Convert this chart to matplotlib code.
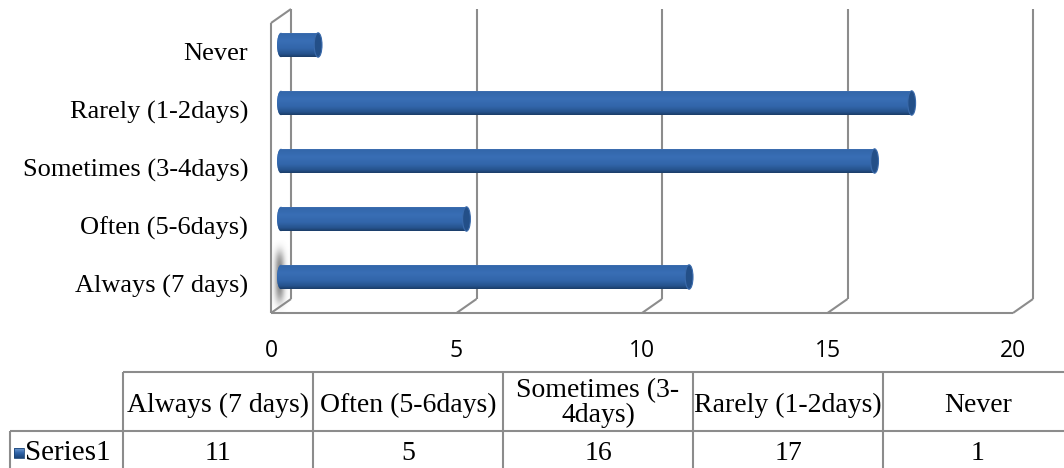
import numpy as np
import matplotlib
matplotlib.use("Agg")
import matplotlib.pyplot as plt
from matplotlib.patches import Ellipse, Rectangle
from matplotlib.transforms import offset_copy
from matplotlib.colors import LinearSegmentedColormap

# ---- data -------------------------------------------------------------
categories = ["Always (7 days)", "Often (5-6days)", "Sometimes (3-4days)",
              "Rarely (1-2days)", "Never"]
table_headers = ["Always (7 days)", "Often (5-6days)", "Sometimes (3-\n4days)",
                 "Rarely (1-2days)", "Never"]
series_name = "Series1"
values = [11, 5, 16, 17, 1]
x_ticks = [0, 5, 10, 15, 20]

# ---- figure / layout --------------------------------------------------
W, H, DPI = 1064, 468, 100
fig = plt.figure(figsize=(W / DPI, H / DPI), dpi=DPI)
fig.patch.set_facecolor("white")


def px_box(left, top, right, bottom):
    return [left / W, 1 - bottom / H, (right - left) / W, (bottom - top) / H]


SERIF = "Liberation Serif"
SANS = "Open Sans"
WALL = "#8c8c8c"

# front plane of the 3-D box
ax_l, ax_t, ax_r, ax_b = 271, 23, 1013, 313
ax = fig.add_axes(px_box(ax_l, ax_t, ax_r, ax_b))
ax.set_facecolor("none")
xmin, xmax = 0, 20
ymin, ymax = -0.5, len(categories) - 0.5
for s in ax.spines.values():
    s.set_visible(False)

# oblique depth of the box (pixels) and its size in data units
depth_px = (20, 14)
sx = (xmax - xmin) / (ax_r - ax_l)
sy = (ymax - ymin) / (ax_b - ax_t)
ddx, ddy = depth_px[0] * sx, depth_px[1] * sy

line_kw = dict(color=WALL, lw=1.5, clip_on=False, solid_capstyle="butt", zorder=1)
for t in x_ticks:
    # back wall gridline
    ax.plot([t + ddx, t + ddx], [ymin + ddy, ymax + ddy], **line_kw)
    # floor diagonal
    ax.plot([t, t + ddx], [ymin, ymin + ddy], **line_kw)
# front floor edge
ax.plot([xmin, xmax], [ymin, ymin], **line_kw)
# left wall
ax.plot([xmin, xmin], [ymin, ymax], **line_kw)
ax.plot([xmin, xmin + ddx], [ymax, ymax + ddy], **line_kw)

# soft shadow on the left wall next to the lowest cylinder
gx = np.linspace(-1, 1, 60)
gy = np.linspace(-1, 1, 120)
GX, GY = np.meshgrid(gx, gy)
alpha = np.exp(-((GX + 0.15) / 0.55) ** 2) * np.exp(-(GY / 0.7) ** 4)
shadow = np.zeros((120, 60, 4))
shadow[..., :3] = 0.5
shadow[..., 3] = np.clip(alpha * 0.9, 0, 1)
ax.imshow(shadow, extent=[0.03, 0.5, -0.5, 0.75], aspect="auto",
          interpolation="bilinear", zorder=1.5, clip_on=False)

# ---- cylinders ----------------------------------------------------------
bar_tr = offset_copy(ax.transData, fig=fig, x=depth_px[0] / 2, y=depth_px[1] / 2,
                     units="dots")
body_cmap = LinearSegmentedColormap.from_list(
    "cyl",
    [(0.0, "#4a78b4"), (0.08, "#3367ab"), (0.35, "#396eb5"),
     (0.65, "#3266aa"), (0.88, "#26538d"), (1.0, "#1b3d68")])
grad = body_cmap(np.linspace(0, 1, 64))[:, None, :]

bar_h = 0.42
cap_w = 0.21
for i, v in enumerate(values):
    # rounded start of the cylinder
    start = Ellipse((0, i), cap_w, bar_h, transform=bar_tr, facecolor="#2f63a8",
                    edgecolor="none", zorder=2)
    ax.add_patch(start)
    im0 = ax.imshow(grad, extent=[-cap_w, cap_w, i - bar_h / 2, i + bar_h / 2],
                    aspect="auto", interpolation="bilinear", zorder=2.1)
    im0.set_transform(bar_tr)
    im0.set_clip_path(start)

    bars = ax.barh(i, v, height=bar_h, left=0, color="#2f63a8", linewidth=0,
                   transform=bar_tr, zorder=3)
    rect = bars.patches[0]
    im = ax.imshow(grad, extent=[0, v, i - bar_h / 2, i + bar_h / 2],
                   aspect="auto", interpolation="bilinear", zorder=3.1)
    im.set_transform(bar_tr)
    im.set_clip_path(rect)

    cap = Ellipse((v, i), cap_w, bar_h, transform=bar_tr, facecolor="#234f88",
                  edgecolor="#3a6aab", linewidth=0.8, zorder=4)
    ax.add_patch(cap)

ax.set_xlim(xmin, xmax)
ax.set_ylim(ymin, ymax)

# ---- axis labels ----------------------------------------------------------
ax.set_xticks(x_ticks)
ax.set_xticklabels([str(t) for t in x_ticks], fontfamily=SANS, fontsize=16.5)
ax.set_yticks(range(len(categories)))
ax.set_yticklabels(categories, fontfamily=SERIF, fontsize=19)
ax.tick_params(axis="x", length=0, pad=19)
ax.tick_params(axis="y", length=0, pad=16.5)

# ---- data table (laid out in pixel units) ---------------------------------
tax = fig.add_axes([0, 0, 1, 1])
tax.set_xlim(0, W)
tax.set_ylim(H, 0)
tax.axis("off")

t_left, t_top, t_mid, t_bottom = 10, 372, 431, 475
lab_w, col_w = 113, 190
col_left = t_left + lab_w
col_edges = [col_left + col_w * k for k in range(len(values) + 1)]

tline = dict(color=WALL, lw=1.5, clip_on=False, solid_capstyle="butt")
tax.plot([col_left, col_edges[-1]], [t_top, t_top], **tline)
tax.plot([t_left, col_edges[-1]], [t_mid, t_mid], **tline)
tax.plot([t_left, col_edges[-1]], [t_bottom, t_bottom], **tline)
tax.plot([t_left, t_left], [t_mid, t_bottom], **tline)
for xe in col_edges:
    tax.plot([xe, xe], [t_top, t_bottom], **tline)

TABLE_FS = 20
hdr_y = (t_top + t_mid) / 2
row_y = 453
for k, (hdr, v) in enumerate(zip(table_headers, values)):
    cx = (col_edges[k] + col_edges[k + 1]) / 2
    multi = "\n" in hdr
    tax.text(cx, hdr_y + (1.5 if multi else 4), hdr, fontfamily=SERIF,
             fontsize=TABLE_FS, ha="center", va="center",
             linespacing=1.0, multialignment="center")
    tax.text(cx, row_y, str(v), fontfamily=SERIF, fontsize=TABLE_FS,
             ha="center", va="center")

# legend key + series name in the row header
key_cmap = LinearSegmentedColormap.from_list("key", ["#6f9ad0", "#2f63a8", "#1d4679"])
key = tax.imshow(key_cmap(np.linspace(0, 1, 16))[:, None, :],
                 extent=[14, 24, row_y + 5, row_y - 5], aspect="auto",
                 interpolation="bilinear", clip_on=False)
tax.add_patch(Rectangle((14, row_y - 5), 10, 10, facecolor="none",
                        edgecolor="#1d4679", linewidth=0.6, clip_on=False))
tax.set_xlim(0, W)
tax.set_ylim(H, 0)
tax.text(25, row_y, series_name, fontfamily=SERIF, fontsize=21,
         ha="left", va="center")

fig.savefig("out.png", dpi=DPI, facecolor="white")
